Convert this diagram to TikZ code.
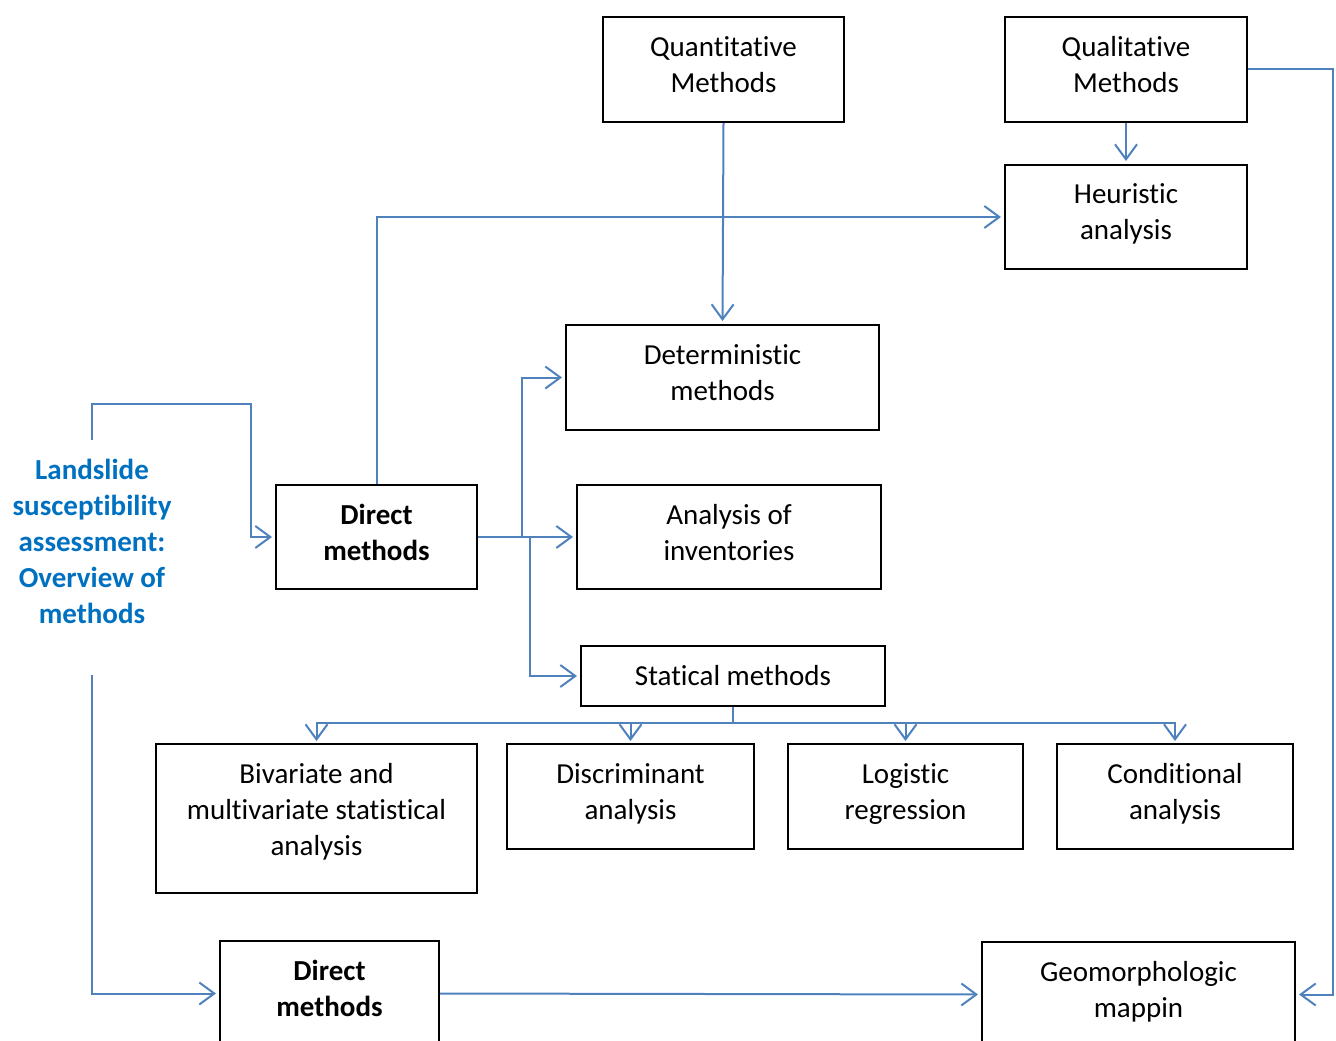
\documentclass[tikz,border=0pt]{standalone}
\usepackage{fontspec}
\setmainfont{Carlito}[Ligatures=CommonOff]
\usetikzlibrary{arrows.meta}
\definecolor{linkblue}{HTML}{4F81BD}
\definecolor{titleblue}{HTML}{0070C0}
\tikzset{box/.style={draw,line width=2pt,inner sep=0pt,align=center,text depth=10pt,
    font=\fontsize{29}{36}\selectfont},
  link/.style={draw=linkblue,line width=2pt,
    -{Straight Barb[length=15pt,width=22pt]},shorten >=3pt}}

\begin{document}
\begin{tikzpicture}[x=1pt,y=-1pt]
\useasboundingbox (0,0) rectangle (1336,1041);
\node[align=center,text=titleblue,font=\fontsize{29}{36}\selectfont\bfseries] (title) at (92,541)
	{Landslide\\susceptibility\\assessment:\\Overview of\\methods};
\coordinate (tin) at (92,440);
\coordinate (tout) at (92,675);
%
\node[box,minimum width=241,minimum height=105] (quant) at (723.5,69.5) {Quantitative\\Methods};
\node[box,minimum width=242,minimum height=105] (qual) at (1126,69.5) {Qualitative\\Methods};
\node[box,minimum width=242,minimum height=104] (heur) at (1126,217) {Heuristic\\analysis};
\node[box,minimum width=313,minimum height=105] (determ) at (722.5,377.5) {Deterministic\\methods};
\node[box,minimum width=201,minimum height=104,font=\fontsize{29}{36}\selectfont\bfseries] (direct) at (376.5,537) {Direct\\methods};
\node[box,minimum width=304,minimum height=104] (invent) at (729,537) {Analysis of\\inventories};
\node[box,minimum width=304,minimum height=60,text depth=2pt] (stat) at (733,676) {Statical methods};
%
\node[box,minimum width=321,minimum height=149,text depth=18pt] (biv) at (316.5,818.5) {Bivariate and\\multivariate statistical\\analysis};
\node[box,minimum width=247,minimum height=105] (disc) at (630.5,796.5) {Discriminant\\analysis};
\node[box,minimum width=235,minimum height=105] (logi) at (905.5,796.5) {Logistic\\regression};
\node[box,minimum width=236,minimum height=105] (cond) at (1175,796.5) {Conditional\\analysis};
%
\node[box,minimum width=219,minimum height=105,font=\fontsize{29}{36}\selectfont\bfseries] (direct2) at (329.5,993.5) {Direct\\methods};
\node[box,minimum width=313,minimum height=105] (geo) at (1138.5,994.5) {Geomorphologic\\mappin};
%
\draw[link] (tin) |- (251,404) |- (direct.west);
\draw[link] (tout) |- (direct2.west);
\draw[link] (direct.north) |- (heur.west);
\draw[link] (quant.south) -- (determ.north);
\draw[link] (qual.south) -- (heur.north);
\draw[link] (qual.east) -| ([xshift=37]geo.east) -- (geo.east);
\draw[link] (direct.east) -- ([xshift=44]direct.east) |- (determ.west);
\draw[link] (direct.east) -- (invent.west);
\draw[link] (direct.east) -- ([xshift=52]direct.east) |- (stat.west);
\foreach \n in {biv,disc,logi,cond}
	\draw[link,shorten >=2pt] (stat.south) |- ([yshift=20]\n.north) -- (\n.north);
\draw[link] (direct2.east) -- (geo.west);
\end{tikzpicture}
\end{document}
